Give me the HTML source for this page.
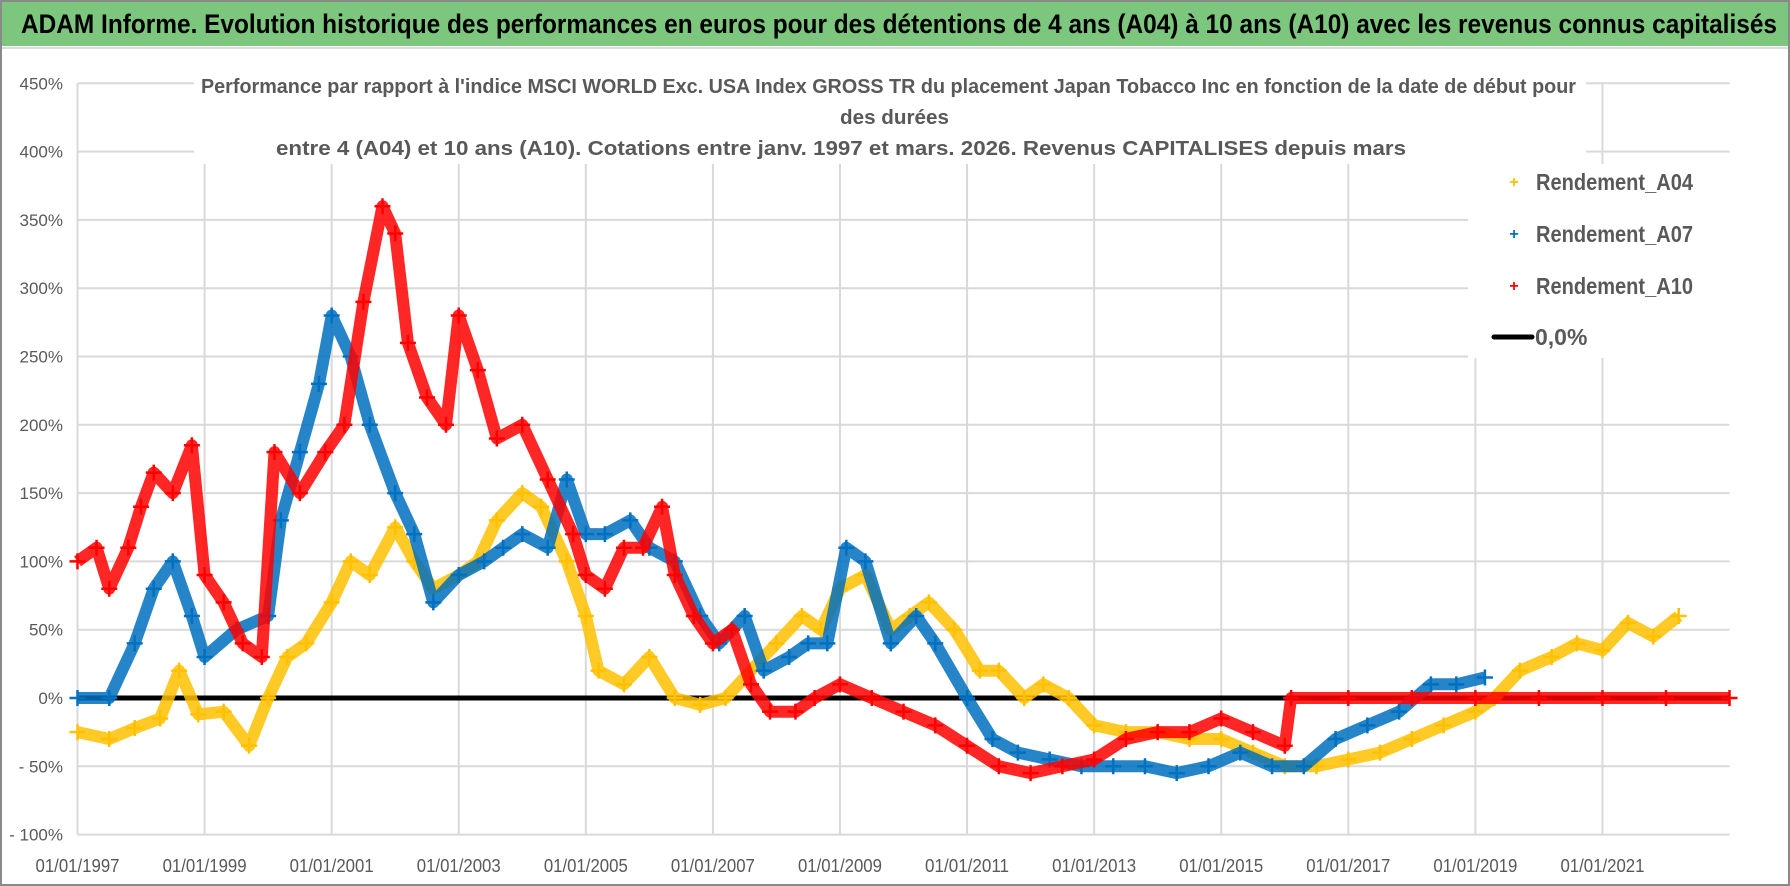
<!DOCTYPE html>
<html><head><meta charset="utf-8"><style>
body{margin:0;background:#fff;}
svg{display:block;font-family:"Liberation Sans Narrow","Liberation Sans",sans-serif;}
</style></head><body>
<svg id="chart" width="1790" height="886" viewBox="0 0 1790 886">
<rect x="0" y="0" width="1790" height="886" fill="#fff"/>
<rect x="1" y="1" width="1788" height="884" fill="none" stroke="#8a8a8a" stroke-width="2"/>
<rect x="2" y="2" width="1786" height="44" fill="#7dc67d"/>
<text x="21" y="33" font-size="27" font-weight="bold" fill="#000" textLength="1756" lengthAdjust="spacingAndGlyphs">ADAM Informe. Evolution historique des performances en euros pour des détentions de 4 ans (A04) à 10 ans (A10) avec les revenus connus capitalisés</text>
<line x1="2" y1="48" x2="1788" y2="48" stroke="#ddd" stroke-width="2"/>
<g id="grid"></g>
<g id="yaxis"></g>
<g id="xaxis"></g>
<g id="series"></g>
<rect x="194" y="68" width="1392" height="96" fill="#fff"/>
<text x="201" y="93" font-size="20" font-weight="bold" fill="#595959" textLength="1375" lengthAdjust="spacingAndGlyphs">Performance par rapport à l'indice MSCI WORLD Exc. USA Index GROSS TR  du placement Japan Tobacco Inc en fonction de la date de début pour</text>
<text x="840" y="124" font-size="20" font-weight="bold" fill="#595959" textLength="109" lengthAdjust="spacingAndGlyphs">des durées</text>
<text x="276" y="155" font-size="20" font-weight="bold" fill="#595959" textLength="1130" lengthAdjust="spacingAndGlyphs">entre 4 (A04) et 10 ans (A10). Cotations entre janv. 1997 et mars. 2026. Revenus CAPITALISES depuis mars</text>
<g>
<rect x="1468" y="164" width="262" height="194" fill="#fff"/>
<g><text x="1514" y="187" font-size="16" fill="#ffc000" text-anchor="middle" font-weight="bold">+</text><text x="1536" y="190" font-size="23" font-weight="bold" fill="#595959" textLength="157" lengthAdjust="spacingAndGlyphs">Rendement_A04</text></g>
<g><text x="1514" y="239" font-size="16" fill="#0070c0" text-anchor="middle" font-weight="bold">+</text><text x="1536" y="242" font-size="23" font-weight="bold" fill="#595959" textLength="157" lengthAdjust="spacingAndGlyphs">Rendement_A07</text></g>
<g><text x="1514" y="291" font-size="16" fill="#ff0000" text-anchor="middle" font-weight="bold">+</text><text x="1536" y="294" font-size="23" font-weight="bold" fill="#595959" textLength="157" lengthAdjust="spacingAndGlyphs">Rendement_A10</text></g>
<g><line x1="1494" y1="337" x2="1532" y2="337" stroke="#000" stroke-width="5" stroke-linecap="round"/><text x="1535" y="345" font-size="23" font-weight="bold" fill="#595959">0,0%</text></g>
</g>
</svg>
<script>
const yTicks=[450,400,350,300,250,200,150,100,50,0,-50,-100];
const yTickLabels=["450%","400%","350%","300%","250%","200%","150%","100%","50%","0%","- 50%","- 100%"];
const xTickYears=[1997,1999,2001,2003,2005,2007,2009,2011,2013,2015,2017,2019,2021];
const xTickLabels=["01/01/1997","01/01/1999","01/01/2001","01/01/2003","01/01/2005","01/01/2007","01/01/2009","01/01/2011","01/01/2013","01/01/2015","01/01/2017","01/01/2019","01/01/2021"];
const a04Years=[1997,1997.5,1997.9,1998.3,1998.6,1998.9,1999.3,1999.7,2000,2000.3,2000.6,2001,2001.3,2001.6,2002,2002.3,2002.6,2003,2003.3,2003.6,2004,2004.3,2004.7,2005,2005.2,2005.6,2006,2006.4,2006.8,2007.2,2007.6,2008,2008.4,2008.7,2009,2009.4,2009.8,2010.1,2010.4,2010.8,2011.2,2011.5,2011.9,2012.2,2012.6,2013,2013.5,2014,2014.5,2015,2015.5,2016,2016.5,2017,2017.5,2018,2018.5,2019,2019.3,2019.7,2020.2,2020.6,2021,2021.4,2021.8,2022.2];
const a04Values=[-25,-30,-22,-15,20,-12,-10,-35,0,30,40,70,100,90,125,100,80,90,100,130,150,140,100,60,20,10,30,0,-5,0,20,40,60,50,80,90,50,60,70,50,20,20,0,10,0,-20,-25,-25,-30,-30,-40,-50,-50,-45,-40,-30,-20,-10,0,20,30,40,35,55,45,60];
const a07Years=[1997,1997.5,1997.9,1998.2,1998.5,1998.8,1999,1999.5,2000,2000.2,2000.5,2000.8,2001,2001.3,2001.6,2002,2002.3,2002.6,2003,2003.4,2003.7,2004,2004.4,2004.7,2005,2005.3,2005.7,2006,2006.4,2006.8,2007.1,2007.5,2007.8,2008.2,2008.5,2008.8,2009.1,2009.4,2009.8,2010.2,2010.5,2011,2011.4,2011.8,2012.3,2012.8,2013.3,2013.8,2014.3,2014.8,2015.3,2015.8,2016.3,2016.8,2017.3,2017.8,2018.3,2018.7,2019.15];
const a07Values=[0,0,40,80,100,60,30,50,60,130,180,230,280,250,200,150,120,70,90,100,110,120,110,160,120,120,130,110,100,60,40,60,20,30,40,40,110,100,40,60,40,0,-30,-40,-45,-50,-50,-50,-55,-50,-40,-50,-50,-30,-20,-10,10,10,15];
const a10Years=[1997,1997.3,1997.5,1997.8,1998,1998.2,1998.5,1998.8,1999,1999.3,1999.6,1999.9,2000.1,2000.5,2000.9,2001.2,2001.5,2001.8,2002,2002.2,2002.5,2002.8,2003,2003.3,2003.6,2004,2004.4,2004.8,2005,2005.3,2005.6,2005.9,2006.2,2006.4,2006.7,2007,2007.3,2007.6,2007.9,2008.3,2008.6,2009,2009.5,2010,2010.5,2011,2011.5,2012,2012.5,2013,2013.5,2014,2014.5,2015,2015.5,2016,2016.1,2017,2018,2019,2020,2021,2022,2023];
const a10Values=[100,110,80,110,140,165,150,185,90,70,40,30,180,150,180,200,290,360,340,260,220,200,280,240,190,200,160,120,90,80,110,110,140,90,60,40,50,10,-10,-10,0,10,0,-10,-20,-35,-50,-55,-50,-45,-30,-25,-25,-15,-25,-35,0,0,0,0,0,0,0,0];
const NS="http://www.w3.org/2000/svg";
const X0=77.5,PXY=63.54,Y0=698,PXV=1.366;
function xs(y){return X0+(y-1997)*PXY;}
function ys(v){return Y0-v*PXV;}
const grid=document.getElementById('grid'),yax=document.getElementById('yaxis'),xax=document.getElementById('xaxis'),ser=document.getElementById('series');
function mk(tag,attrs,parent){const e=document.createElementNS(NS,tag);for(const k in attrs)e.setAttribute(k,attrs[k]);parent.appendChild(e);return e;}
yTicks.forEach((t,i)=>{
  const l=mk('line',{x1:X0,x2:xs(2023),y1:ys(t),y2:ys(t),stroke:'#d9d9d9','stroke-width':2},grid);
  
  
  const tx=mk('text',{x:63,y:ys(t)+6,'font-size':17,fill:'#595959','text-anchor':'end'},yax);
  tx.textContent=yTickLabels[i];
  
  
});
xTickYears.forEach((yr,i)=>{
  const l=mk('line',{x1:xs(yr),x2:xs(yr),y1:ys(450),y2:ys(-100),stroke:'#d9d9d9','stroke-width':2},grid);
  
  
  const tx=mk('text',{x:xs(yr),y:872,'font-size':18,fill:'#595959','text-anchor':'middle',textLength:84,lengthAdjust:'spacingAndGlyphs'},xax);
  tx.textContent=xTickLabels[i];
  
  
});
const zl=mk('line',{x1:X0,x2:xs(2023),y1:ys(0),y2:ys(0),stroke:'#000','stroke-width':5},ser);


function drawSeries(years,vals,color,name){
  const g=mk('g',{},ser);
  
  
  const pts=years.map((y,i)=>xs(y).toFixed(1)+','+ys(vals[i]).toFixed(1)).join(' ');
  const pl=mk('polyline',{points:pts,fill:'none',stroke:color,'stroke-width':12,'stroke-linejoin':'round','stroke-opacity':0.85},g);
  
  
  years.forEach((y,i)=>{
    const cx=xs(y),cy=ys(vals[i]);
    const p=mk('path',{d:`M${cx-8},${cy}H${cx+8}M${cx},${cy-8}V${cy+8}`,stroke:color,'stroke-width':2.5},g);
    
    
  });
}
drawSeries(a04Years,a04Values,'#ffc000','series-a04');
drawSeries(a07Years,a07Values,'#0070c0','series-a07');
drawSeries(a10Years,a10Values,'#ff0000','series-a10');
</script>
</body></html>
